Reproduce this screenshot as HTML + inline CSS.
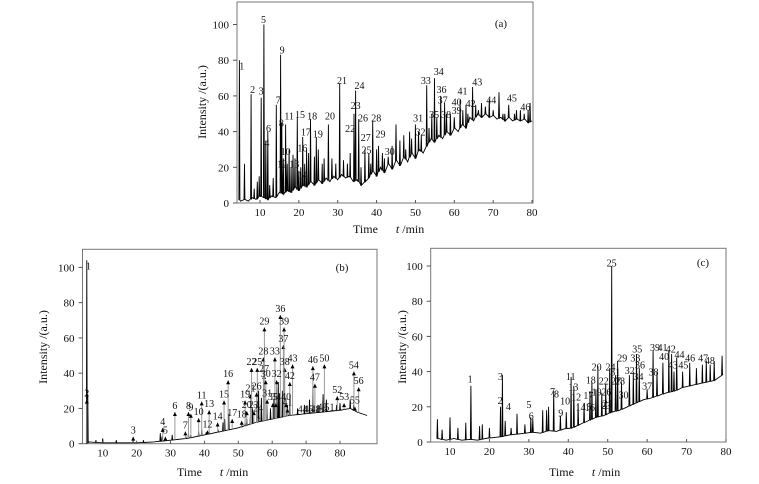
<!DOCTYPE html>
<html><head><meta charset="utf-8"><style>
html,body{margin:0;padding:0;background:#fff}
svg{display:block}
text{font-family:"Liberation Serif",serif;fill:#111}
</style></head><body>
<svg id="chart" width="759" height="484" viewBox="0 0 759 484" xmlns="http://www.w3.org/2000/svg"></svg>
<script>
// ---------- Panel (a) data ----------
const aBaseT = [4,5,6,7,8,9,10,11,12,13,14,15,16,17,18,19,20,21,22,23,24,25,26,27,28,29,30,31,32,33,34,35,36,37,38,39,40,41,42,43,44,45,46,47,48,49,50,51,52,53,54,55,56,57,58,59,60,61,62,63,64,65,66,67,68,69,70,71,72,73,74,75,76,77,78,79,80];
const aBaseH = [3,1,2,1,3,2,4,3,2,4,3,6,5,7,6,9,7,10,9,12,10,13,11,14,12,15,13,16,14,15,12,13,10,12,14,18,15,20,17,22,19,24,21,26,23,28,25,30,28,32,36,34,38,36,40,38,42,40,44,42,48,46,50,48,50,48,49,47,48,46,48,46,47,46,47,45,46];
const aPeakT = [4.7,6,7.7,8.5,9.3,9.8,10.3,11,11.5,12,12.5,13.4,14.2,15.3,15.6,16,16.6,17,17.5,18,18.5,19,19.6,20,20.5,21,21.5,22,22.5,23,24,24.5,25,26,26.5,27.6,28.5,29.5,30.5,31.5,32.5,33.2,34.2,34.6,35.4,36,37,38,38.5,39,40,40.5,41.5,42,43,44,45,46,47,47.5,48.5,49,50,50.8,51.5,52.9,53.5,54.2,54.9,55.5,56.5,57.5,58,59,60,61.5,62.2,63,63.5,64.7,65.5,66.2,67,68,69,70,71.5,72.5,73,74,75.5,76,77,78,79,79.5];
const aPeakH = [80,22,61,8,12,15,59,100,35,40,10,14,55,83,45,25,44,22,30,20,27,25,48,18,20,37,22,30,28,47,26,37,30,22,25,44,25,22,67,24,22,28,50,63,47,20,30,28,22,46,30,32,28,25,26,32,44,35,38,30,40,36,44,40,38,66,42,50,70,48,60,56,50,50,48,58,52,55,50,65,55,52,56,54,58,52,62,50,50,55,50,52,52,50,52,56];
const aLabT = [5.3,8.1,10.3,11.8,10.9,12.2,14.7,15.5,15.7,16.6,17.5,15.7,18.8,21,20.3,20.9,21.8,23.4,24.9,28,31.1,33.2,34.6,35.6,37.4,36.5,37.2,39.9,41,43.4,50.7,51.3,52.7,56,54.8,56.7,57,57.9,60.6,60.6,62.1,64.2,65.9,69.5,74.8,78.3];
const aLabH = [77,64,63,34,103,42,58,45,86,29,49,22,22,16,50,31,40,49,39,49,69,42,55,66,30,48,37,48,39,29,48,40,69,74,50,64,58,50,52,57,63,56,68,58,59,54];
// ---------- Panel (b) data ----------
const bBaseT = [5,6,10,15,20,25,30,35,40,45,50,55,60,65,70,75,80,83,85,88,91];
const bBaseH = [0,1,0.5,0.5,0.5,1,2,3,5,7,9,12,14,16,17,18,19,20,18,16,13];
const bPeakT = [5.3,5.6,8,10,14,19,22,27,27.5,30.5,34.5,35.3,36,38.3,39.2,40.5,41.4,44,45.5,46,47.2,51,52,52.5,53.6,54.2,55.5,56,56.8,57.5,58.5,59.5,60.5,61.3,61.8,62.2,63,64.5,65.2,67.5,69.5,71,72,73.5,75,76,79,80,83,84];
const bPeakH = [104,28,2,3,2,3,2,6,4,5,4,6,5,7,8,6,7,8,12,14,17,12,12,14,18,20,22,30,26,28,22,20,25,32,35,28,30,22,28,20,22,25,32,22,28,25,22,23,25,22];
const bLabT = [5.8,5.3,19,27.7,28.5,31.3,34.4,35.3,36,38.3,39.2,40.9,41.4,43.9,45.8,47,48.2,51,52,52.5,53.6,53.9,54.6,55.8,55.6,55.4,57.6,57.4,57.7,58.1,58.5,61.3,60.8,61.1,60.2,62.4,63.3,63.7,63.5,64.1,64.5,65.2,66,69,70.8,72,72.6,72.8,74.8,75.4,76.9,79.2,81.2,84.1,84.4,85.5];
const bLabH = [101,29,8,13,8,22,11,22,21,18.5,28,11.5,23,16,28.5,40,18,17,28.5,22.5,32,47,22.5,20.5,47,33,43,53,70,40,29,40,53,27,27,77,60,47,70,27,24,39,49,20,20,48,38,20,21,49,21,31,27,45,25,36];
// ---------- Panel (c) data ----------
const cBaseT = [5,7,9,11,13,15,17,19,21,23,25,27,29,31,33,35,37,39,41,43,45,47,49,51,53,55,57,59,61,63,65,67,69,71,73,75,77,79,80];
const cBaseH = [1,2,1,2,1,1.5,1,2,2.5,3,4,4.5,5,5.5,5,6.5,6,7.5,8,10,12,14,15,17,18,20,22,24,25,26.5,28,29,31,32,33,34,35,38,37];
const cPeakT = [6.8,8,10,12,14,15.3,17.5,18.2,20,22.8,23.3,24,25.5,27,29,30.5,31,33.5,34.5,35,36.3,38,39.5,40.7,41.4,42.5,44,45.5,46,47,47.5,48.5,49.5,50.5,51,52,52.5,53.5,55.5,56.5,57.3,58,60,61.5,62.5,64,65.5,66.2,66.8,67.5,69,70.8,72.5,74,75,76,77,79];
const cPeakH = [13,7,14,8,11,32,9,10,8,20,38,12,8,16,10,14,13,18,18,20,29,15,17,37,32,22,22,29,34,30,43,28,33,42,100,38,46,34,38,40,50,42,30,52,40,45,52,50,40,48,40,45,42,44,46,44,46,49];
const cLabT = [15.1,22.7,22.8,24.8,30,30.6,36,37,38.1,39.2,40.6,42,41.3,43.1,44.7,45.5,45.1,45.7,47.2,47.2,50,49,49.6,50.7,51,49.7,52.1,53.1,53.7,54,51.9,55.6,57,57.8,57.5,58.2,60,61.6,62,64.3,63.9,66,66.5,68.2,69.2,70.9,74.2,75.9];
const cLabH = [36,24,37.5,20.5,21.6,15,29,27.6,16.7,23.5,37.5,25.8,31.4,20,20.5,20,26.7,35.6,28.6,43,22.3,35,21,43,102,28.6,35,35,48,27,40,41,48,37.5,53,44,32,40,54,49,54,53,44,50,44,48,48,46.6];

const svg = document.getElementById('chart');
const NS = 'http://www.w3.org/2000/svg';
function mk(tag, attrs, parent){
  const el = document.createElementNS(NS, tag);
  for (const k in attrs) el.setAttribute(k, attrs[k]);
  (parent||svg).appendChild(el);
  return el;
}
function interp(ts, hs, t){
  if (t <= ts[0]) return hs[0];
  for (let i=1;i<ts.length;i++){ if (t<=ts[i]){ const f=(t-ts[i-1])/(ts[i]-ts[i-1]); return hs[i-1]+f*(hs[i]-hs[i-1]); } }
  return hs[hs.length-1];
}
function drawPanel(p){
  const g = mk('g', {});
  
  
  const X = t => p.x10 + (t-10)*p.sx;
  const Y = h => p.y0 - h*p.sy;
  const fr = mk('rect', {x:p.L, y:p.T, width:p.R-p.L, height:p.y0-p.T, fill:'none', stroke:'#777', 'stroke-width':1}, g);
  
  
  const pts = [];
  const events = [];
  p.baseT.forEach((t,i)=>events.push({t:t, kind:'b', h:p.baseH[i]}));
  p.peakT.forEach((t,i)=>events.push({t:t, kind:'p', h:p.peakH[i]}));
  events.sort((a,b)=>a.t-b.t);
  events.forEach(e=>{
    if (e.kind==='b'){ pts.push([X(e.t), Y(e.h)]); }
    else {
      const b = interp(p.baseT, p.baseH, e.t);
      pts.push([X(e.t-0.12), Y(b)]);
      pts.push([X(e.t), Y(Math.min(e.h, p.hmax))]);
      pts.push([X(e.t+0.12), Y(b)]);
    }
  });
  const d = pts.filter(q=>q[0]>=p.L && q[0]<=p.R).map((q,i)=>(i?'L':'M')+q[0].toFixed(1)+','+q[1].toFixed(1)).join('');
  const tr = mk('path', {d:d, fill:'none', stroke:'#000', 'stroke-width':0.9}, g);
  
  
  [0,20,40,60,80,100].forEach(v=>{
    mk('line', {x1:p.L-4, x2:p.L, y1:Y(v), y2:Y(v), stroke:'#555'}, g);
    const tx = mk('text', {x:p.L-8, y:Y(v)+4, 'font-size':11, 'text-anchor':'end'}, g);
    tx.textContent = v;
    
    
  });
  p.xticks.forEach(v=>{
    mk('line', {x1:X(v), x2:X(v), y1:p.y0, y2:p.y0-3, stroke:'#555'}, g);
    const tx = mk('text', {x:X(v), y:p.y0+13, 'font-size':11, 'text-anchor':'middle'}, g);
    tx.textContent = v;
    
    
  });
  if (p.arrows){
    p.labT.forEach((t,i)=>{
      if (i===0) return;
      const h = p.labH[i]-4;
      const b = interp(p.baseT, p.baseH, t);
      if (h <= b+1) return;
      mk('line', {x1:X(t), x2:X(t), y1:Y(h), y2:Y(b), stroke:'#999', 'stroke-width':1}, g);
      const ar = mk('path', {d:'M'+(X(t)-2)+','+(Y(h)+4)+'L'+X(t)+','+Y(h)+'L'+(X(t)+2)+','+(Y(h)+4)+'Z', fill:'#000'}, g);
      
      
    });
  }
  p.labT.forEach((t,i)=>{
    const tx = mk('text', {x:X(t), y:Y(p.labH[i])+4, 'font-size':10, 'text-anchor':'middle'}, g);
    tx.textContent = (i+1);
    
    
  });
  const tag = mk('text', {x:p.tagX, y:p.tagY, 'font-size':11, 'text-anchor':'middle'}, g);
  tag.textContent = '('+p.id+')';
  
  
  const xt = mk('text', {x:p.titleX, y:p.titleY, 'font-size':12}, g);
  xt.innerHTML = 'Time<tspan dx="18" font-style="italic">t</tspan><tspan> /min</tspan>';
  
  
  const yt = mk('text', {x:0, y:0, 'font-size':12, 'text-anchor':'middle', transform:'translate('+p.ytX+','+p.ytY+') rotate(-90)'}, g);
  yt.textContent = 'Intensity /(a.u.)';
  
  
}
drawPanel({id:'a', L:237, R:533, T:2, y0:203, x10:260, sx:3.886, sy:1.785, hmax:108,
  baseT:aBaseT, baseH:aBaseH, peakT:aPeakT, peakH:aPeakH, labT:aLabT, labH:aLabH,
  xticks:[10,20,30,40,50,60,70,80], tagX:501, tagY:27, titleX:353, titleY:233, ytX:206, ytY:102});
drawPanel({id:'b', L:82.5, R:377, T:249.3, y0:443.7, x10:102.7, sx:3.39, sy:1.763, hmax:108,
  baseT:bBaseT, baseH:bBaseH, peakT:bPeakT, peakH:bPeakH, labT:bLabT, labH:bLabH, arrows:true,
  xticks:[10,20,30,40,50,60,70,80], tagX:342, tagY:271, titleX:177, titleY:476, ytX:47, ytY:347});
drawPanel({id:'c', L:430.7, R:726, T:248.3, y0:442, x10:450, sx:3.943, sy:1.76, hmax:108,
  baseT:cBaseT, baseH:cBaseH, peakT:cPeakT, peakH:cPeakH, labT:cLabT, labH:cLabH,
  xticks:[10,20,30,40,50,60,70,80], tagX:703, tagY:266, titleX:549, titleY:476, ytX:406, ytY:347});
</script>
</body></html>
